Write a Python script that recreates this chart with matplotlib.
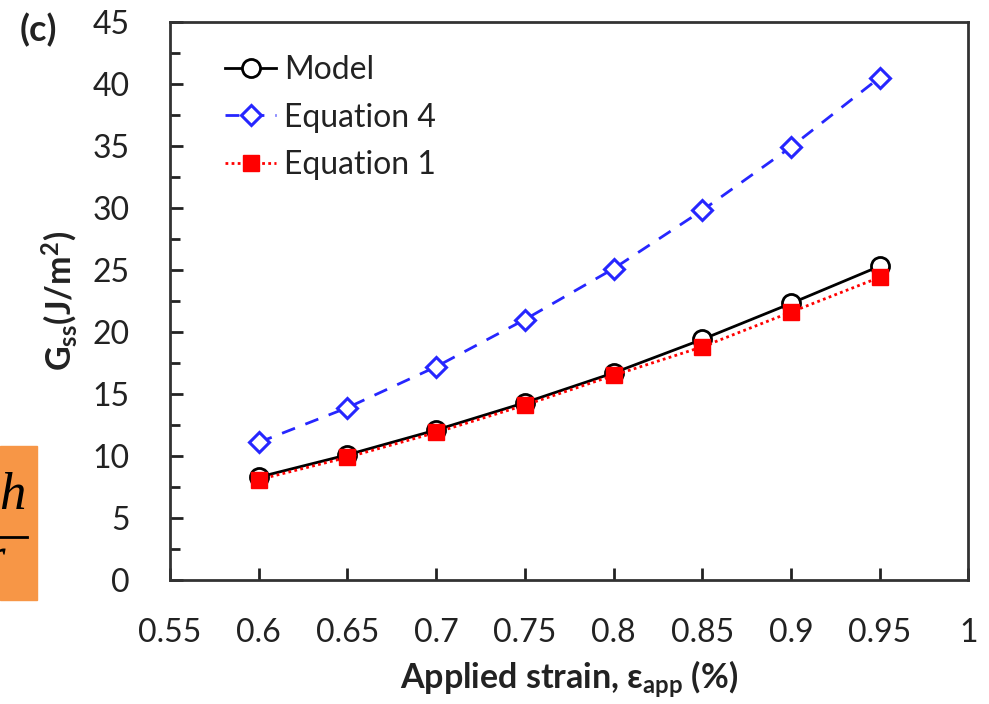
import matplotlib.pyplot as plt
from matplotlib.patches import Rectangle
from matplotlib.ticker import MultipleLocator

plt.rcParams['font.family'] = ['Lato', 'DejaVu Sans']
plt.rcParams['mathtext.fontset'] = 'custom'
plt.rcParams['mathtext.rm'] = 'Lato'
plt.rcParams['mathtext.bf'] = 'Lato:bold'
plt.rcParams['mathtext.it'] = 'Lato:italic'

# applied strain (%) and steady-state energy release rate (J/m^2)
strain = [0.60, 0.65, 0.70, 0.75, 0.80, 0.85, 0.90, 0.95]
g_model = [8.3, 10.1, 12.1, 14.3, 16.7, 19.4, 22.3, 25.3]
g_eq4 = [11.1, 13.9, 17.2, 21.0, 25.1, 29.8, 34.9, 40.5]
g_eq1 = [8.1, 9.9, 11.9, 14.1, 16.5, 18.8, 21.6, 24.4]

xtick_vals = [0.55, 0.6, 0.65, 0.7, 0.75, 0.8, 0.85, 0.9, 0.95, 1.0]
xtick_text = ['0.55', '0.6', '0.65', '0.7', '0.75', '0.8', '0.85', '0.9', '0.95', '1']

fig = plt.figure(figsize=(9.89, 7.04), dpi=100)
ax = fig.add_axes([0.172, 0.176, 0.807, 0.793])

ax.plot(strain, g_eq4, color='#2626ff', ls=(0, (5, 4)), lw=2.0, marker='D',
        ms=10, mfc='white', mec='#2626ff', mew=2.2, label='Equation 4', zorder=3)
ax.plot(strain, g_model, color='black', ls='-', lw=2.0, marker='o',
        ms=13, mfc='white', mec='black', mew=2.0, label='Model', zorder=4)
ax.plot(strain, g_eq1, color='red', ls=(0, (1, 1.2)), lw=2.0, marker='s',
        ms=12, mfc='red', mec='red', label='Equation 1', zorder=5)

ax.set_xlim(0.55, 1.0)
ax.set_ylim(0, 45)
ax.yaxis.set_major_locator(MultipleLocator(5))
ax.yaxis.set_minor_locator(MultipleLocator(2.5))
ax.set_xticks(xtick_vals)
ax.set_xticklabels(xtick_text)
ax.tick_params(which='both', direction='in', width=2, color='#222222',
               labelsize=23, labelcolor='#222222')
ax.tick_params(which='major', length=9)
ax.tick_params(which='minor', length=7)
ax.tick_params(axis='x', which='major', pad=27)
ax.tick_params(axis='y', which='major', pad=29)
for s in ax.spines.values():
    s.set_linewidth(2)
    s.set_color('#333333')

ax.set_xlabel(r'Applied strain, ε$_{\mathbf{app}}$ (%)', fontsize=24.5,
              fontweight='bold', color='#222222', labelpad=8)
ax.set_ylabel(r'G$_{\mathbf{ss}}$(J/m$^{\mathbf{2}}$)', fontsize=24.5,
              fontweight='bold', color='#222222', labelpad=9)

handles, labels = ax.get_legend_handles_labels()
order = [1, 0, 2]
ax.legend([handles[i] for i in order], [labels[i] for i in order],
          loc='upper left', bbox_to_anchor=(0.045, 0.975), frameon=False,
          fontsize=23, handlelength=1.6, handletextpad=0.25, labelspacing=0.55,
          labelcolor='#222222', borderaxespad=0.2)

fig.text(0.039, 0.957, '(c)', fontsize=26, fontweight='bold', color='#222222',
         ha='center', va='center')

# orange box with part of an equation at the left edge
fig.patches.append(Rectangle((0, 104 / 704), 37 / 989, 154 / 704,
                             transform=fig.transFigure, color='#f79646', zorder=0))
fig.text(12 / 989, 1 - 496 / 704, 'h', family='Liberation Serif', style='italic',
         fontsize=38, ha='center', va='center', color='black')
fig.lines.append(plt.Line2D([0, 27 / 989], [1 - 537 / 704, 1 - 537 / 704],
                            transform=fig.transFigure, color='black', lw=2))
fig.text(5 / 989, 1 - 560 / 704, 'r', family='Liberation Serif', style='italic',
         fontsize=36, ha='right', va='center', color='black')

fig.savefig('out.png', dpi=100)
